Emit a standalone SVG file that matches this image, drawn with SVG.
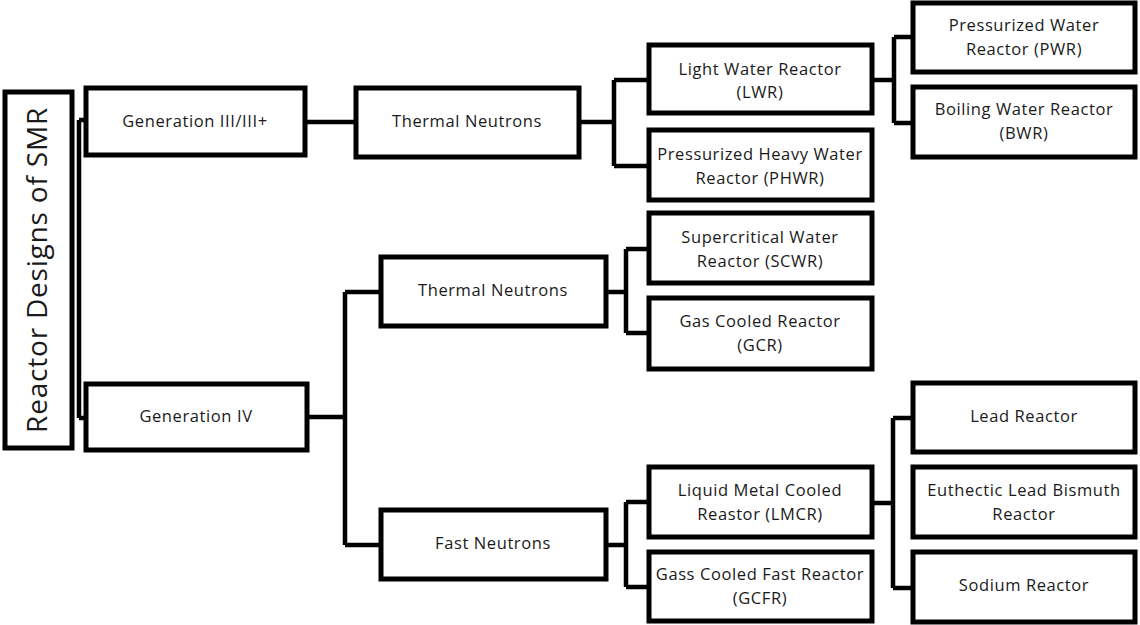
<svg xmlns="http://www.w3.org/2000/svg" width="1140" height="625" viewBox="0 0 1140 625">
<style>
.box{fill:#fff;stroke:#000;stroke-width:5}
.c{fill:none;stroke:#000;stroke-width:4.5}
text{font-family:"Open Sans","Liberation Sans",sans-serif;font-size:16.5px;letter-spacing:0.6px;fill:#1a1a1a;text-anchor:middle}
</style>
<rect width="1140" height="625" fill="#fff"/>
<g id="connectors">
<path class="c" d="M79,120 V418 M79,120 H86 M79,418 H86"/>
<path class="c" d="M305,122 H356"/>
<path class="c" d="M579,122 H614 M614,80 V166 M614,80 H649 M614,166 H649"/>
<path class="c" d="M872,80 H894 M894,37 V123 M894,37 H913 M894,123 H913"/>
<path class="c" d="M307,417 H345 M345,292 V545 M345,292 H381 M345,545 H381"/>
<path class="c" d="M606,292 H626 M626,249 V333 M626,249 H649 M626,333 H649"/>
<path class="c" d="M606,545 H626 M626,502 V587 M626,502 H649 M626,587 H649"/>
<path class="c" d="M872,503 H893 M893,418 V588 M893,418 H913 M893,588 H913"/>
</g>
<g id="root"><rect class="box" x="5" y="92" width="67" height="356"/><text transform="translate(47,270) rotate(-90)" style="font-size:28px;letter-spacing:0.8px">Reactor Designs of SMR</text></g>
<g id="gen3"><rect class="box" x="86" y="88" width="219" height="67"/><text x="195" y="127">Generation III/III+</text></g>
<g id="gen4"><rect class="box" x="86" y="384" width="221" height="66"/><text x="196" y="422">Generation IV</text></g>
<g id="tn1"><rect class="box" x="356" y="88" width="223" height="69"/><text x="467" y="127">Thermal Neutrons</text></g>
<g id="lwr"><rect class="box" x="649" y="45" width="223" height="68"/><text x="760" y="75">Light Water Reactor</text><text x="760" y="98">(LWR)</text></g>
<g id="phwr"><rect class="box" x="649" y="130" width="223" height="70"/><text x="760" y="160">Pressurized Heavy Water</text><text x="760" y="184">Reactor (PHWR)</text></g>
<g id="pwr"><rect class="box" x="913" y="3" width="222" height="69"/><text x="1024" y="31">Pressurized Water</text><text x="1024" y="55">Reactor (PWR)</text></g>
<g id="bwr"><rect class="box" x="913" y="87" width="222" height="70"/><text x="1024" y="115">Boiling Water Reactor</text><text x="1024" y="139">(BWR)</text></g>
<g id="tn2"><rect class="box" x="381" y="257" width="225" height="69"/><text x="493" y="296">Thermal Neutrons</text></g>
<g id="scwr"><rect class="box" x="649" y="213" width="223" height="70"/><text x="760" y="243">Supercritical Water</text><text x="760" y="267">Reactor (SCWR)</text></g>
<g id="gcr"><rect class="box" x="649" y="298" width="223" height="71"/><text x="760" y="327">Gas Cooled Reactor</text><text x="760" y="351">(GCR)</text></g>
<g id="fn"><rect class="box" x="381" y="510" width="225" height="69"/><text x="493" y="549">Fast Neutrons</text></g>
<g id="lmcr"><rect class="box" x="649" y="467" width="223" height="70"/><text x="760" y="496">Liquid Metal Cooled</text><text x="760" y="520">Reastor (LMCR)</text></g>
<g id="gcfr"><rect class="box" x="649" y="552" width="223" height="69"/><text x="760" y="580">Gass Cooled Fast Reactor</text><text x="760" y="604">(GCFR)</text></g>
<g id="lead"><rect class="box" x="913" y="383" width="222" height="69"/><text x="1024" y="422">Lead Reactor</text></g>
<g id="lbe"><rect class="box" x="913" y="467" width="222" height="70"/><text x="1024" y="496">Euthectic Lead Bismuth</text><text x="1024" y="520">Reactor</text></g>
<g id="sodium"><rect class="box" x="913" y="552" width="222" height="70"/><text x="1024" y="591">Sodium Reactor</text></g>
</svg>
